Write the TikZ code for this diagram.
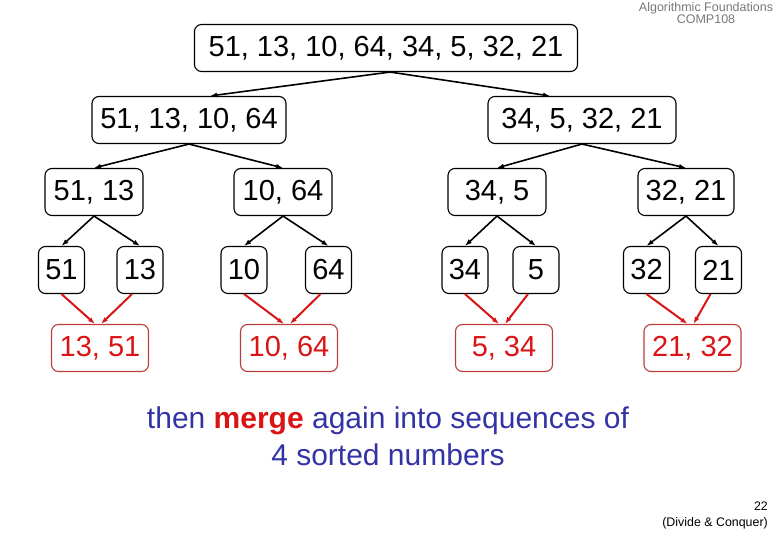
\documentclass[tikz,border=0pt]{standalone}
\usepackage{fontspec}
\setmainfont{Liberation Sans}
\usetikzlibrary{arrows.meta}
\definecolor{mergered}{RGB}{218,20,20}
\definecolor{boxred}{RGB}{190,60,60}
\definecolor{noteblue}{RGB}{51,51,165}
\definecolor{headgray}{RGB}{120,120,120}
\begin{document}
\begin{tikzpicture}[x=1pt, y=-1pt, >={Latex[length=7pt,width=5pt]},
  seq/.style={draw, rounded corners=7pt, line width=1.1pt, minimum height=47pt, inner sep=0pt, font=\fontsize{29}{32}\selectfont},
  leaf/.style={seq, minimum width=46pt},
  merged/.style={seq, draw=boxred, text=mergered, minimum width=97pt},
  splitarrow/.style={->, line width=1.6pt},
  mergearrow/.style={->, line width=2pt, mergered}]
\useasboundingbox (0,0) rectangle (780,540);
\node[seq, minimum width=383pt] (all) at (386,48) {51, 13, 10, 64, 34, 5, 32, 21};
\node[seq, minimum width=194pt] (lefthalf) at (189,120) {51, 13, 10, 64};
\node[seq, minimum width=188pt] (righthalf) at (582,120) {34, 5, 32, 21};
\node[seq, minimum width=98pt] (q1) at (94,192) {51, 13};
\node[seq, minimum width=98pt] (q2) at (283,192) {10, 64};
\node[seq, minimum width=98pt] (q3) at (497,192) {34, 5};
\node[seq, minimum width=96pt] (q4) at (686,192) {32, 21};
\node[leaf] (n51) at (61.5,270) {51};
\node[leaf] (n13) at (140,270) {13};
\node[leaf] (n10) at (244,270) {10};
\node[leaf] (n64) at (328.5,270) {64};
\node[leaf] (n34) at (465,270) {34};
\node[leaf] (n5) at (536,270) {5};
\node[leaf] (n32) at (646.5,270) {32};
\node[leaf] (n21) at (718.5,270) {21};
\node[merged] (m1) at (100,348) {13, 51};
\node[merged] (m2) at (289,348) {10, 64};
\node[merged] (m3) at (504,348) {5, 34};
\node[merged] (m4) at (692.5,348) {21, 32};
% splitting
\draw[splitarrow] ([xshift=4pt]all.south) -- ([xshift=21pt]lefthalf.north);
\draw[splitarrow] ([xshift=4pt]all.south) -- ([xshift=-32pt]righthalf.north);
\draw[splitarrow] (lefthalf.south) -- (q1.north);
\draw[splitarrow] (lefthalf.south) -- (q2.north);
\draw[splitarrow] (righthalf.south) -- (q3.north);
\draw[splitarrow] (righthalf.south) -- (q4.north);
\draw[splitarrow] (q1.south) -- (n51.north);
\draw[splitarrow] (q1.south) -- (n13.north);
\draw[splitarrow] (q2.south) -- (n10.north);
\draw[splitarrow] (q2.south) -- (n64.north);
\draw[splitarrow] (q3.south) -- (n34.north);
\draw[splitarrow] (q3.south) -- (n5.north);
\draw[splitarrow] (q4.south) -- (n32.north);
\draw[splitarrow] (q4.south) -- (n21.north);
% merging
\draw[mergearrow] (n51.south) -- ([xshift=-5pt]m1.north);
\draw[mergearrow] ([xshift=-8pt]n13.south) -- ([xshift=1pt]m1.north);
\draw[mergearrow] (n10.south) -- ([xshift=-5pt]m2.north);
\draw[mergearrow] ([xshift=-8pt]n64.south) -- ([xshift=1pt]m2.north);
\draw[mergearrow] (n34.south) -- ([xshift=-5pt]m3.north);
\draw[mergearrow] ([xshift=-8pt]n5.south) -- ([xshift=1pt]m3.north);
\draw[mergearrow] (n32.south) -- ([xshift=-5pt]m4.north);
\draw[mergearrow] ([xshift=-8pt]n21.south) -- ([xshift=1pt]m4.north);
% texts
\node[align=center, text=noteblue, font=\fontsize{30}{37}\selectfont] (caption) at (388,436) {then {\color{mergered}\bfseries merge} again into sequences of\\ 4 sorted numbers};
\node[align=center, text=headgray, font=\fontsize{12.5}{12}\selectfont] (course) at (706,13) {Algorithmic Foundations\\COMP108};
\node[align=right, anchor=east, inner sep=0pt, font=\fontsize{12.4}{16}\selectfont] (page) at (768,515) {22\\(Divide \& Conquer)};
\end{tikzpicture}
\end{document}
